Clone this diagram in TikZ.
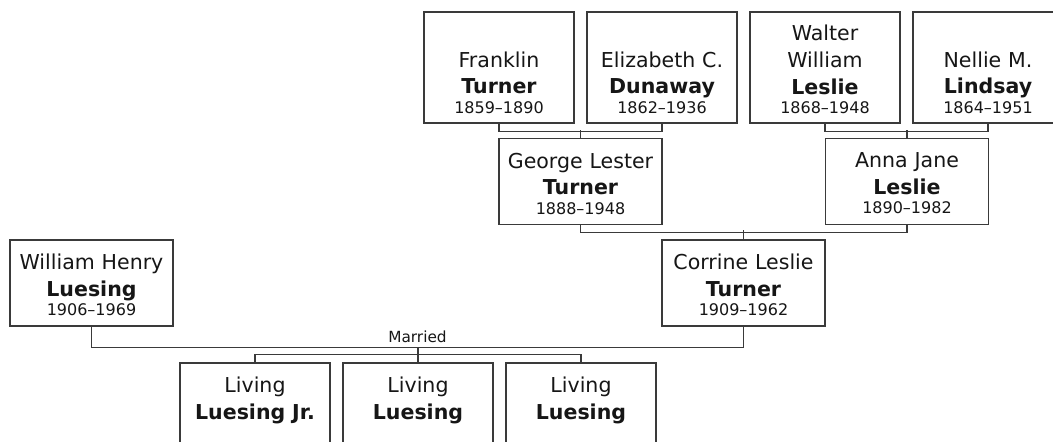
\documentclass[tikz,border=0pt]{standalone}
\usepackage{fontspec}
\setmainfont{DejaVu Sans}
\setsansfont{DejaVu Sans}
\usetikzlibrary{calc}

\newcommand{\namefont}{\fontsize{15.4}{20}\selectfont}
\newcommand{\datefont}{\fontsize{12}{14.5}\selectfont}
% given name(s), surname in bold, years
\newcommand{\person}[3]{%
    {\namefont #1\par}{\namefont\bfseries #2\par}{\datefont #3\par}\vspace{-3pt}}
\newcommand{\blankline}{{\namefont\leavevmode\vphantom{F}\par}}

\begin{document}
\begin{tikzpicture}[
    every node/.style={font=\sffamily},
]

\definecolor{linecolor}{HTML}{3A3A3A}
\definecolor{textcolor}{HTML}{161616}

\tikzset{
    box/.style={draw=linecolor, line width=1pt, fill=white, inner sep=0pt,
                align=center, text=textcolor, font=\namefont},
    topbox/.style={box, text width=112.5pt, minimum height=83.25pt},
    midbox/.style={box, text width=122.25pt, minimum height=64.5pt},
    kidbox/.style={box, text width=112.5pt, minimum height=64.5pt},
    tie/.style={draw=linecolor, line width=1pt},
}

% one unit is one pixel of the tree, y going down
\begin{scope}[x=0.75pt, y=-0.75pt]

    \useasboundingbox (0,0) rectangle (1053,442);
    \clip (0,0) rectangle (1053,442);

    % ------------------------------------------------------------ great-grandparents
    \node[topbox] (franklin) at (499, 67.5)
        {\blankline\person{Franklin}{Turner}{1859--1890}};
    \node[topbox] (elizabeth) at (662, 67.5)
        {\blankline\person{Elizabeth C.}{Dunaway}{1862--1936}};
    \node[topbox] (walter) at (825, 67.5)
        {\person{Walter\\William}{Leslie}{1868--1948}};
    \node[topbox] (nellie) at (988, 67.5)
        {\blankline\person{Nellie M.}{Lindsay}{1864--1951}};

    % ------------------------------------------------------------ grandparents
    \node[midbox] (george) at (580.5, 181.5)
        {\person{George Lester}{Turner}{1888--1948}};
    \node[midbox] (anna) at (907, 181.5)
        {\person{Anna Jane}{Leslie}{1890--1982}};

    % ------------------------------------------------------------ parents
    \node[midbox] (william) at (91.5, 283)
        {\person{William Henry}{Luesing}{1906--1969}};
    \node[midbox] (corrine) at (743.5, 283)
        {\person{Corrine Leslie}{Turner}{1909--1962}};

    % ------------------------------------------------------------ children
    \node[kidbox] (kidA) at (255, 406)
        {\person{Living}{Luesing Jr.}{\mbox{}}};
    \node[kidbox] (kidB) at (418, 406)
        {\person{Living}{Luesing}{\mbox{}}};
    \node[kidbox] (kidC) at (581, 406)
        {\person{Living}{Luesing}{\mbox{}}};

    % ------------------------------------------------------------ the ties
    \draw[tie] (franklin.south) -- ++(0,8) -| (elizabeth.south);
    \draw[tie] (george.north) -- ++(0,-8);
    \draw[tie] (walter.south) -- ++(0,8) -| (nellie.south);
    \draw[tie] (anna.north) -- ++(0,-8);

    \draw[tie] (george.south) -- ++(0,7) -| (anna.south);
    \draw[tie] (corrine.north) -- ++(0,-9);

    \draw[tie] (william.south) -- ++(0,20.7) -| (corrine.south);
    \coordinate (wed) at ($(william.south)!.5!(corrine.south)+(0,20.7)$);
    \node[font=\fontsize{11.5}{13}\selectfont, text=textcolor, anchor=base]
        (married) at ($(wed)+(0,-4.4)$) {Married};

    \draw[tie] (kidA.north) -- ++(0,-8) -| (kidC.north);
    \draw[tie] (kidB.north) -- (kidB.north |- wed);

\end{scope}

\end{tikzpicture}
\end{document}
